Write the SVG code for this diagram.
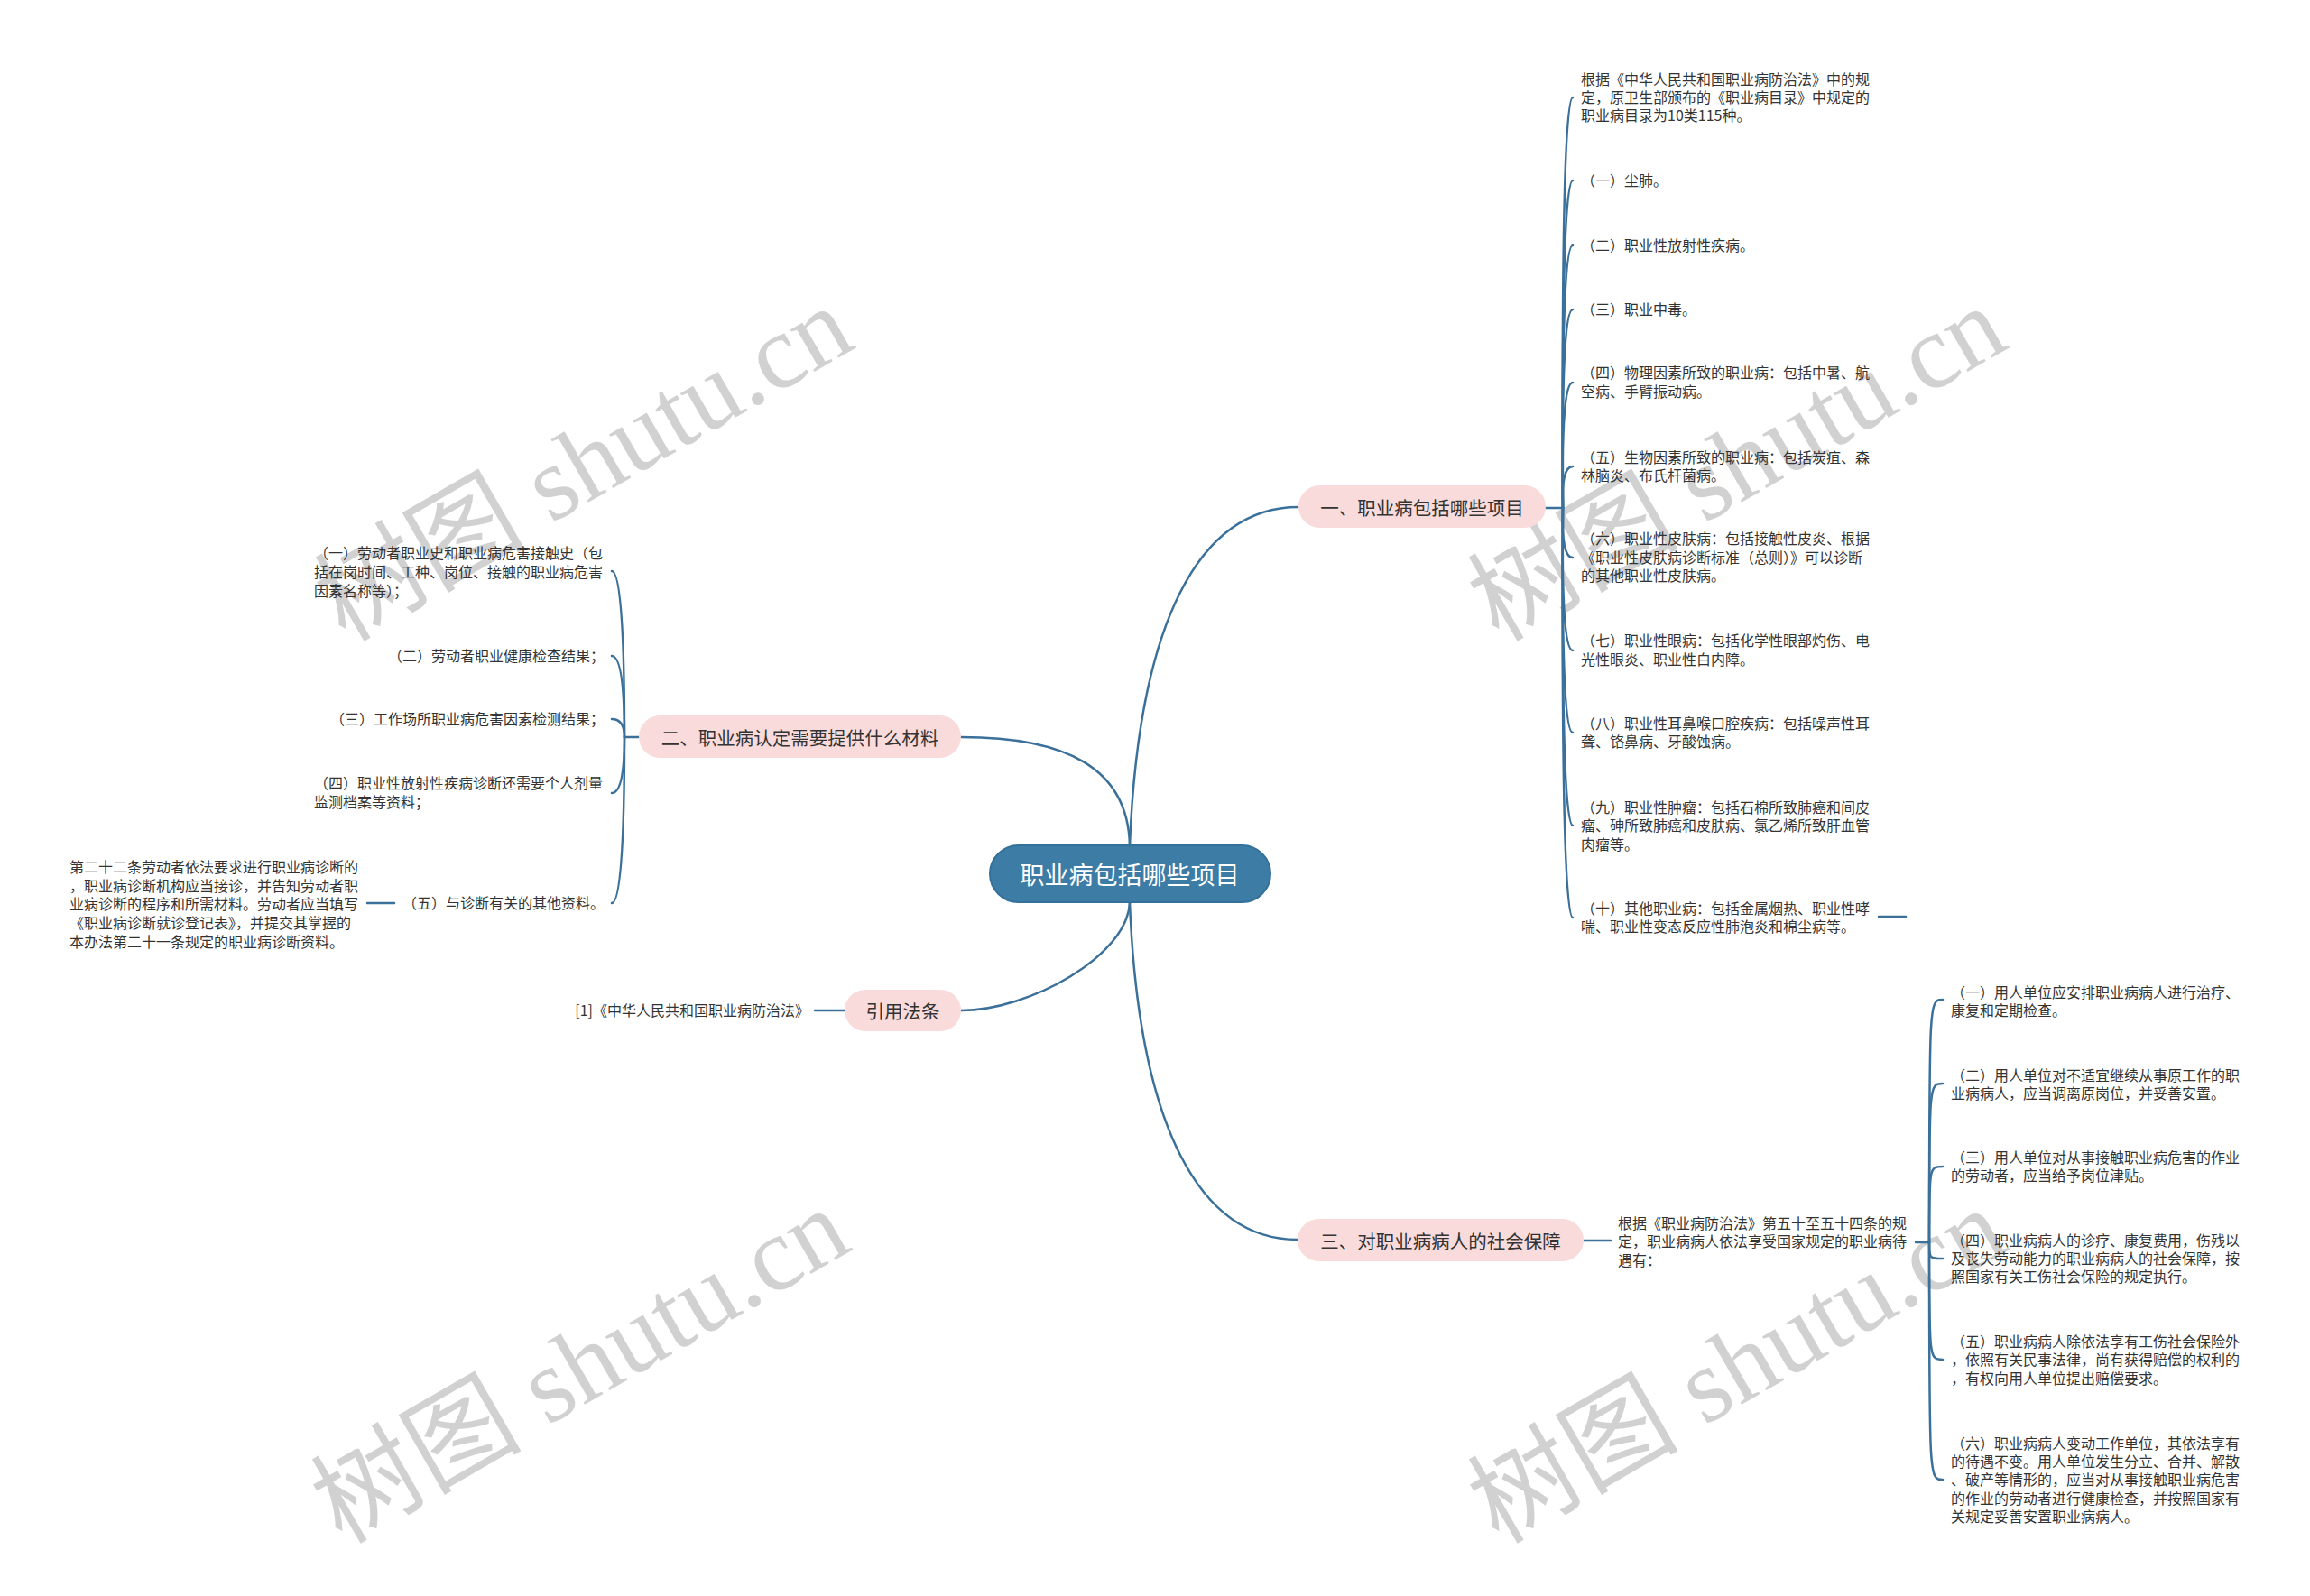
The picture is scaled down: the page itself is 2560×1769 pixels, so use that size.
<svg xmlns="http://www.w3.org/2000/svg" width="2560" height="1769" viewBox="0 0 2560 1769">
<defs>
<style>
.c{fill:none;stroke:#3a7099;stroke-width:2.5;stroke-linecap:round}
.t{font-family:"Noto Sans CJK SC","Noto Sans",sans-serif;font-size:16px;fill:#333;dominant-baseline:central;transform:translateY(-1.5px)}
.b{font-family:"Noto Sans CJK SC","Noto Sans",sans-serif;font-size:20.5px;fill:#333;text-anchor:middle;dominant-baseline:central}
.bn{fill:#f9dbdb}
.wm{font-family:"Liberation Serif","Noto Sans CJK SC",serif;font-size:117px;fill:#b5b5b5;opacity:0.62;text-anchor:middle;dominant-baseline:central}
</style>
</defs>
<rect width="2560" height="1769" fill="#ffffff"/>
<g id="watermarks">
<text class="wm" transform="translate(647,514) rotate(-30)">树图 shutu.cn</text>
<text class="wm" transform="translate(1925,514) rotate(-30)">树图 shutu.cn</text>
<text class="wm" transform="translate(643,1514) rotate(-30)">树图 shutu.cn</text>
<text class="wm" transform="translate(1925,1514) rotate(-30)">树图 shutu.cn</text>
</g>
<g id="connectors">
<path class="c" d="M1252 937 C1262 687 1330 562 1439 562"/>
<path class="c" d="M1252 937 C1250 850 1180 817 1065 817"/>
<path class="c" d="M1252 1000 C1250 1060 1140 1120 1065 1120"/>
<path class="c" d="M1252 1000 C1262 1250 1330 1374 1438 1374"/>
<path class="c" d="M1713 563 H1732"/>
<path class="c" d="M1732 563 Q1730 108 1743 108"/>
<path class="c" d="M1732 563 Q1730 200 1743 200"/>
<path class="c" d="M1732 563 Q1730 272 1743 272"/>
<path class="c" d="M1732 563 Q1730 343 1743 343"/>
<path class="c" d="M1732 563 Q1730 424 1743 424"/>
<path class="c" d="M1732 563 Q1730 517 1743 517"/>
<path class="c" d="M1732 563 Q1730 618 1743 618"/>
<path class="c" d="M1732 563 Q1730 721 1743 721"/>
<path class="c" d="M1732 563 Q1730 812 1743 812"/>
<path class="c" d="M1732 563 Q1730 915 1743 915"/>
<path class="c" d="M1732 563 Q1730 1017 1743 1017"/>
<path class="c" d="M2082 1016 H2112"/>
<path class="c" d="M708 817 H692"/>
<path class="c" d="M692 817 Q692 633 678 633"/>
<path class="c" d="M692 817 Q692 727 678 727"/>
<path class="c" d="M692 817 Q692 797 678 797"/>
<path class="c" d="M692 817 Q692 879 678 879"/>
<path class="c" d="M692 817 Q692 1001 678 1001"/>
<path class="c" d="M437 1001 H407"/>
<path class="c" d="M936 1120 H903"/>
<path class="c" d="M1755 1375 H1785"/>
<path class="c" d="M2123 1377 H2138"/>
<path class="c" d="M2138 1377 C2138 1108 2138 1108 2153 1108"/>
<path class="c" d="M2138 1377 C2138 1201 2138 1201 2153 1201"/>
<path class="c" d="M2138 1377 C2138 1293 2138 1293 2153 1293"/>
<path class="c" d="M2138 1377 C2138 1395 2138 1395 2153 1395"/>
<path class="c" d="M2138 1377 C2138 1507 2138 1507 2153 1507"/>
<path class="c" d="M2138 1377 C2138 1640 2138 1640 2153 1640"/>
</g>
<g id="center">
<rect x="1097" y="937" width="311" height="63" rx="31.5" fill="#3d7da5" stroke="#33709a" stroke-width="2"/>
<text x="1252" y="968" font-family="'Noto Sans CJK SC',sans-serif" font-size="27" fill="#ffffff" text-anchor="middle" dominant-baseline="central">职业病包括哪些项目</text>
</g>
<g id="branch1">
<rect class="bn" x="1439" y="538" width="274" height="47" rx="23.5"/>
<text class="b" x="1576" y="562">一、职业病包括哪些项目</text>
</g>
<g id="branch2">
<rect class="bn" x="708" y="793" width="357" height="47" rx="23.5"/>
<text class="b" x="886.5" y="817">二、职业病认定需要提供什么材料</text>
</g>
<g id="branch3">
<rect class="bn" x="1438" y="1351" width="317" height="47" rx="23.5"/>
<text class="b" x="1596.5" y="1375">三、对职业病病人的社会保障</text>
</g>
<g id="branch4">
<rect class="bn" x="936" y="1097" width="129" height="46" rx="23"/>
<text class="b" x="1000.5" y="1120">引用法条</text>
</g>
<g id="b1c0"><text class="t"><tspan x="1752" y="88">根据《中华人民共和国职业病防治法》中的规</tspan><tspan x="1752" y="108">定，原卫生部颁布的《职业病目录》中规定的</tspan><tspan x="1752" y="128">职业病目录为10类115种。</tspan></text></g>
<g id="b1c1"><text class="t" x="1752" y="200">（一）尘肺。</text></g>
<g id="b1c2"><text class="t" x="1752" y="272">（二）职业性放射性疾病。</text></g>
<g id="b1c3"><text class="t" x="1752" y="343">（三）职业中毒。</text></g>
<g id="b1c4"><text class="t"><tspan x="1752" y="413">（四）物理因素所致的职业病：包括中暑、航</tspan><tspan x="1752" y="434">空病、手臂振动病。</tspan></text></g>
<g id="b1c5"><text class="t"><tspan x="1752" y="507">（五）生物因素所致的职业病：包括炭疽、森</tspan><tspan x="1752" y="527">林脑炎、布氏杆菌病。</tspan></text></g>
<g id="b1c6"><text class="t"><tspan x="1752" y="597">（六）职业性皮肤病：包括接触性皮炎、根据</tspan><tspan x="1752" y="618">《职业性皮肤病诊断标准（总则）》可以诊断</tspan><tspan x="1752" y="638">的其他职业性皮肤病。</tspan></text></g>
<g id="b1c7"><text class="t"><tspan x="1752" y="710">（七）职业性眼病：包括化学性眼部灼伤、电</tspan><tspan x="1752" y="731">光性眼炎、职业性白内障。</tspan></text></g>
<g id="b1c8"><text class="t"><tspan x="1752" y="802">（八）职业性耳鼻喉口腔疾病：包括噪声性耳</tspan><tspan x="1752" y="822">聋、铬鼻病、牙酸蚀病。</tspan></text></g>
<g id="b1c9"><text class="t"><tspan x="1752" y="895">（九）职业性肿瘤：包括石棉所致肺癌和间皮</tspan><tspan x="1752" y="915">瘤、砷所致肺癌和皮肤病、氯乙烯所致肝血管</tspan><tspan x="1752" y="936">肉瘤等。</tspan></text></g>
<g id="b1c10"><text class="t"><tspan x="1752" y="1007">（十）其他职业病：包括金属烟热、职业性哮</tspan><tspan x="1752" y="1027">喘、职业性变态反应性肺泡炎和棉尘病等。</tspan></text></g>
<g id="b2c1"><text class="t"><tspan x="348" y="613">（一）劳动者职业史和职业病危害接触史（包</tspan><tspan x="348" y="634">括在岗时间、工种、岗位、接触的职业病危害</tspan><tspan x="348" y="655">因素名称等）；</tspan></text></g>
<g id="b2c2"><text class="t" x="670" y="727" text-anchor="end">（二）劳动者职业健康检查结果；</text></g>
<g id="b2c3"><text class="t" x="670" y="797" text-anchor="end">（三）工作场所职业病危害因素检测结果；</text></g>
<g id="b2c4"><text class="t"><tspan x="348" y="868">（四）职业性放射性疾病诊断还需要个人剂量</tspan><tspan x="348" y="889">监测档案等资料；</tspan></text></g>
<g id="b2c5"><text class="t" x="670" y="1001" text-anchor="end">（五）与诊断有关的其他资料。</text></g>
<g id="b2c5a"><text class="t"><tspan x="77" y="961">第二十二条劳动者依法要求进行职业病诊断的</tspan><tspan x="77" y="982">，职业病诊断机构应当接诊，并告知劳动者职</tspan><tspan x="77" y="1002">业病诊断的程序和所需材料。劳动者应当填写</tspan><tspan x="77" y="1023">《职业病诊断就诊登记表》，并提交其掌握的</tspan><tspan x="77" y="1044">本办法第二十一条规定的职业病诊断资料。</tspan></text></g>
<g id="b4c1"><text class="t" x="897" y="1120" text-anchor="end">[1]《中华人民共和国职业病防治法》</text></g>
<g id="b3c0"><text class="t"><tspan x="1793" y="1356">根据《职业病防治法》第五十至五十四条的规</tspan><tspan x="1793" y="1376">定，职业病病人依法享受国家规定的职业病待</tspan><tspan x="1793" y="1397">遇有：</tspan></text></g>
<g id="b3c1"><text class="t"><tspan x="2162" y="1100">（一）用人单位应安排职业病病人进行治疗、</tspan><tspan x="2162" y="1120">康复和定期检查。</tspan></text></g>
<g id="b3c2"><text class="t"><tspan x="2162" y="1192">（二）用人单位对不适宜继续从事原工作的职</tspan><tspan x="2162" y="1212">业病病人，应当调离原岗位，并妥善安置。</tspan></text></g>
<g id="b3c3"><text class="t"><tspan x="2162" y="1283">（三）用人单位对从事接触职业病危害的作业</tspan><tspan x="2162" y="1303">的劳动者，应当给予岗位津贴。</tspan></text></g>
<g id="b3c4"><text class="t"><tspan x="2162" y="1375">（四）职业病病人的诊疗、康复费用，伤残以</tspan><tspan x="2162" y="1395">及丧失劳动能力的职业病病人的社会保障，按</tspan><tspan x="2162" y="1415">照国家有关工伤社会保险的规定执行。</tspan></text></g>
<g id="b3c5"><text class="t"><tspan x="2162" y="1487">（五）职业病病人除依法享有工伤社会保险外</tspan><tspan x="2162" y="1507">，依照有关民事法律，尚有获得赔偿的权利的</tspan><tspan x="2162" y="1528">，有权向用人单位提出赔偿要求。</tspan></text></g>
<g id="b3c6"><text class="t"><tspan x="2162" y="1600">（六）职业病病人变动工作单位，其依法享有</tspan><tspan x="2162" y="1620">的待遇不变。用人单位发生分立、合并、解散</tspan><tspan x="2162" y="1640">、破产等情形的，应当对从事接触职业病危害</tspan><tspan x="2162" y="1661">的作业的劳动者进行健康检查，并按照国家有</tspan><tspan x="2162" y="1681">关规定妥善安置职业病病人。</tspan></text></g>
</svg>
